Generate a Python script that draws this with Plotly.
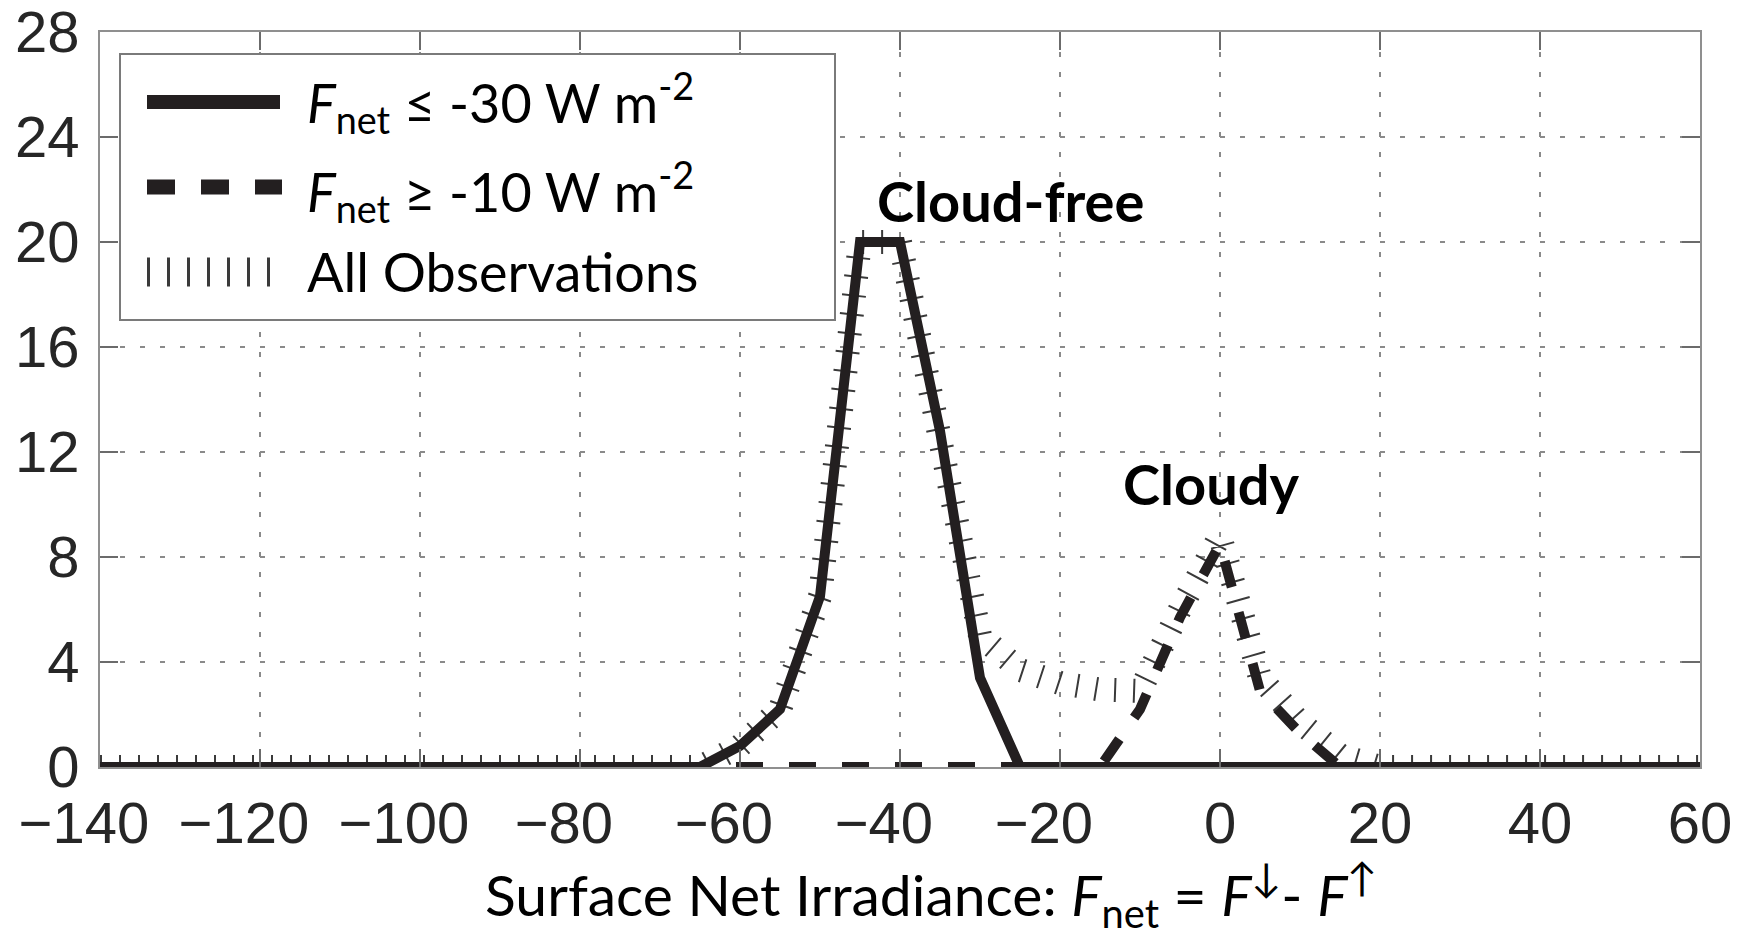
import plotly.graph_objects as go

# Surface net irradiance bins (W m-2)
irradiance = [-140, -135, -130, -125, -120, -115, -110, -105, -100, -95,
              -90, -85, -80, -75, -70, -65, -60, -55, -50, -45,
              -40, -35, -30, -25, -20, -15, -10, -5, 0, 5,
              10, 15, 20, 25, 30, 35, 40, 45, 50, 55, 60]

# Frequency (%) for cloud-free cases (Fnet <= -30 W m-2)
cloud_free = [0, 0, 0, 0, 0, 0, 0, 0, 0, 0,
              0, 0, 0, 0, 0, 0, 0.8, 2.2, 6.5, 20,
              20, 12.8, 3.4, 0, 0, 0, 0, 0, 0, 0,
              0, 0, 0, 0, 0, 0, 0, 0, 0, 0, 0]

# Frequency (%) for cloudy cases (Fnet >= -10 W m-2)
cloudy = [0, 0, 0, 0, 0, 0, 0, 0, 0, 0,
          0, 0, 0, 0, 0, 0, 0, 0, 0, 0,
          0, 0, 0, 0, 0, 0, 2.2, 5.7, 8.5, 2.9,
          1.3, 0, 0, 0, 0, 0, 0, 0, 0, 0, 0]

# Frequency (%) for all observations
all_obs = [0, 0, 0, 0, 0, 0, 0, 0, 0, 0,
           0, 0, 0, 0, 0, 0, 0.8, 2.2, 6.5, 20,
           20, 12.8, 5.0, 3.7, 3.2, 2.95, 2.9, 6.0, 8.8, 3.4,
           1.7, 0.45, 0, 0, 0, 0, 0, 0, 0, 0, 0]

x_ticks = [-140, -120, -100, -80, -60, -40, -20, 0, 20, 40, 60]
x_tick_text = ["\u2212140\u2007", "\u2212120\u2007", "\u2212100\u2007", "\u221280\u2007",
               "\u221260\u2007", "\u221240\u2007", "\u221220\u2007", "0", "20", "40", "60"]
y_ticks = [0, 4, 8, 12, 16, 20, 24, 28]

legend_labels = ["<i>F</i><sub>net</sub> \u2264 -30 W m<sup>-2</sup>",
                 "<i>F</i><sub>net</sub> \u2265 -10 W m<sup>-2</sup>",
                 "All Observations"]

W, H = 1750, 936
L, R, T, B = 100, 50, 32, 169
PW, PH = W - L - R, H - T - B

def px(x):
    return (x - L) / PW

def py(y):
    return (H - B - y) / PH

INK = "#231f20"
HATCH = "#3a3a3a"
CAL = "Lato, 'Open Sans', sans-serif"

fig = go.Figure()

# hatched line: a wide line cut by a short dash pattern gives perpendicular ticks
fig.add_trace(go.Scatter(x=irradiance, y=all_obs, mode="lines", name="All Observations",
                         line=dict(color=HATCH, width=24, dash="2px,17px"),
                         hoverinfo="skip"))
fig.add_trace(go.Scatter(x=irradiance, y=cloudy, mode="lines", name="Fnet >= -10",
                         line=dict(color=INK, width=10, dash="27px,26px"),
                         hoverinfo="skip"))
fig.add_trace(go.Scatter(x=irradiance, y=cloud_free, mode="lines", name="Fnet <= -30",
                         line=dict(color=INK, width=10),
                         hoverinfo="skip"))

axis_common = dict(
    ticks="inside", ticklen=18, tickwidth=1.5, tickcolor="#6b6b6b",
    showline=True, linecolor="#8f8f8f", linewidth=2, mirror="ticks",
    showgrid=True, gridcolor="#8a8a8a", gridwidth=1.5, griddash="5px,15px",
    zeroline=False, tickangle=0, ticklabeloverflow="allow", automargin=False,
    tickfont=dict(family="'Liberation Sans', Arial, sans-serif", size=58, color="#262626"),
)

fig.update_layout(
    width=W, height=H,
    margin=dict(l=L, r=R, t=T, b=B, pad=0, autoexpand=False),
    paper_bgcolor="white", plot_bgcolor="white",
    showlegend=False,
    xaxis=dict(range=[-140, 60], tickmode="array", tickvals=x_ticks, ticktext=x_tick_text,
               ticklabelstandoff=4, **axis_common),
    yaxis=dict(range=[0, 28], tickmode="array", tickvals=y_ticks,
               ticklabelstandoff=7, **axis_common),
)

# legend box and samples
shapes = [
    dict(type="rect", xref="paper", yref="paper", x0=px(120), x1=px(835), y0=py(54), y1=py(320),
         line=dict(color="#7a7a7a", width=2), fillcolor="white", layer="above"),
    dict(type="line", xref="paper", yref="paper", x0=px(147), x1=px(280), y0=py(102), y1=py(102),
         line=dict(color=INK, width=14)),
    dict(type="line", xref="paper", yref="paper", x0=px(147), x1=px(282), y0=py(187), y1=py(187),
         line=dict(color=INK, width=15, dash="28px,26px")),
    dict(type="line", xref="paper", yref="paper", x0=px(147), x1=px(272), y0=py(272), y1=py(272),
         line=dict(color=HATCH, width=29, dash="3px,17px")),
]
fig.update_layout(shapes=shapes)

annotations = []
for label, yc in zip(legend_labels, [102, 191, 271]):
    annotations.append(dict(xref="paper", yref="paper", x=px(305), y=py(yc),
                            xanchor="left", yanchor="middle", text=label, showarrow=False,
                            font=dict(family=CAL, size=54, color="black")))

annotations.append(dict(x=-26.2, y=21.6, text="<b>Cloud-free</b>", showarrow=False,
                        xanchor="center", yanchor="middle",
                        font=dict(family=CAL, size=56, color="black")))
annotations.append(dict(x=-1.1, y=10.8, text="<b>Cloudy</b>", showarrow=False,
                        xanchor="center", yanchor="middle",
                        font=dict(family=CAL, size=56, color="black")))
annotations.append(dict(xref="paper", yref="paper", x=px(931), y=py(894),
                        xanchor="center", yanchor="middle",
                        text="Surface Net Irradiance: <i>F</i><sub>net</sub> = <i>F</i><sup>\u2193</sup>- <i>F</i><sup>\u2191</sup>",
                        showarrow=False, font=dict(family=CAL, size=57, color="black")))
fig.update_layout(annotations=annotations)

fig.write_html("out.html")
